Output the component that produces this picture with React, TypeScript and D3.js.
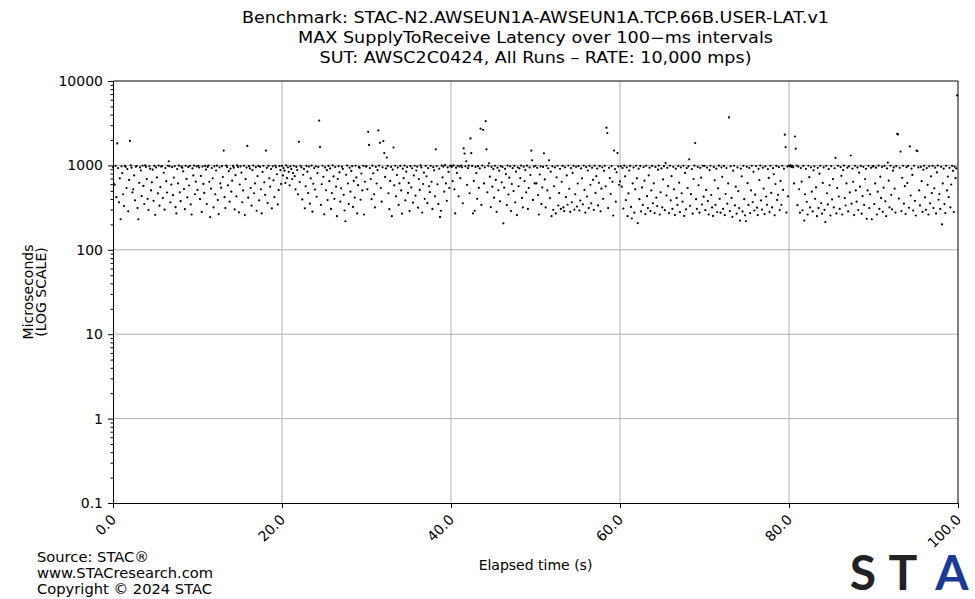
import { useRef, useEffect } from "react";
import * as d3 from "d3";

// MAX latency per 100-ms interval, microseconds (10 s per array)
const seg00 = [948, 610, 590, 985, 420, 1820, 930, 365, 700, 230, 975, 812, 455, 330, 990, 962, 540, 905, 286, 672, 1950, 998, 940, 478, 520, 760, 386, 965, 981, 312, 230, 622, 945, 870, 433, 990, 571, 349, 1003, 958, 688, 402, 296, 977, 915, 505, 630, 890, 380, 986, 260, 945, 720, 466, 995, 333, 552, 968, 980, 410, 818, 299, 932, 650, 476, 990, 1120, 975, 365, 593, 952, 444, 718, 983, 320, 270, 905, 612, 996, 480, 377, 965, 940, 850, 525, 303, 990, 692, 418, 955, 578, 987, 345, 262, 922, 760, 996, 455, 641, 970];
const seg10 = [512, 990, 944, 398, 750, 281, 968, 603, 472, 985, 890, 348, 958, 995, 640, 244, 530, 931, 702, 318, 976, 455, 870, 992, 388, 265, 948, 612, 545, 980, 728, 1500, 420, 312, 994, 960, 580, 855, 372, 915, 488, 660, 986, 940, 301, 765, 430, 998, 956, 278, 594, 972, 820, 366, 505, 990, 258, 688, 943, 1700, 415, 978, 920, 540, 333, 880, 996, 468, 612, 952, 290, 745, 985, 385, 962, 520, 270, 838, 990, 630, 448, 1500, 935, 358, 988, 702, 560, 905, 310, 975, 666, 420, 994, 950, 785, 345, 512, 982, 880, 603];
const seg20 = [985, 760, 930, 865, 620, 998, 705, 950, 840, 580, 972, 905, 690, 812, 990, 745, 520, 960, 880, 455, 1900, 635, 990, 948, 395, 775, 912, 310, 566, 985, 842, 470, 968, 352, 700, 995, 283, 606, 930, 518, 975, 425, 812, 960, 3400, 1650, 340, 598, 990, 732, 263, 945, 508, 878, 388, 986, 651, 920, 305, 470, 998, 740, 402, 957, 560, 250, 690, 982, 826, 372, 535, 965, 912, 448, 292, 218, 775, 995, 610, 350, 940, 488, 860, 978, 322, 655, 416, 990, 720, 270, 583, 958, 935, 392, 802, 505, 988, 262, 640, 972];
const seg30 = [975, 520, 2500, 1750, 930, 690, 398, 992, 805, 455, 318, 962, 610, 880, 2600, 995, 1850, 540, 372, 948, 1940, 1400, 730, 920, 1240, 985, 468, 303, 655, 958, 250, 890, 1630, 580, 990, 430, 770, 942, 340, 612, 985, 505, 268, 915, 705, 996, 385, 842, 955, 472, 620, 288, 978, 548, 925, 362, 760, 990, 438, 870, 965, 316, 690, 512, 998, 945, 276, 602, 820, 402, 985, 742, 358, 930, 566, 482, 990, 640, 305, 952, 875, 430, 1550, 982, 596, 350, 915, 245, 290, 992, 720, 968, 488, 1005, 612, 380, 945, 836, 540, 985];
const seg40 = [985, 962, 650, 998, 520, 270, 940, 812, 990, 430, 968, 705, 995, 950, 356, 1590, 1380, 975, 1120, 588, 930, 992, 468, 2090, 1400, 985, 270, 655, 290, 960, 810, 402, 978, 542, 920, 2720, 340, 995, 2640, 612, 948, 3350, 1550, 480, 988, 1060, 735, 320, 960, 560, 905, 415, 990, 672, 282, 940, 508, 866, 375, 982, 630, 955, 206, 545, 912, 790, 338, 996, 452, 715, 975, 288, 602, 930, 496, 988, 365, 842, 258, 950, 566, 920, 708, 994, 412, 318, 965, 652, 880, 478, 992, 305, 540, 945, 770, 1500, 1150, 390, 968, 612];
const seg50 = [990, 612, 935, 445, 262, 780, 972, 350, 548, 958, 1390, 682, 318, 990, 505, 925, 1150, 410, 842, 250, 975, 298, 566, 945, 270, 722, 990, 335, 470, 912, 305, 640, 985, 318, 288, 950, 420, 760, 342, 995, 528, 282, 930, 366, 815, 988, 300, 455, 962, 326, 610, 978, 292, 384, 920, 703, 345, 992, 512, 276, 955, 428, 870, 312, 985, 590, 355, 940, 675, 298, 992, 472, 745, 918, 336, 622, 980, 286, 530, 948, 402, 862, 990, 565, 2800, 2420, 312, 935, 708, 458, 982, 640, 255, 1500, 905, 372, 830, 1400, 975, 590];
const seg60 = [645, 975, 560, 930, 308, 992, 742, 388, 950, 250, 466, 870, 985, 322, 235, 612, 945, 275, 520, 990, 702, 207, 915, 398, 986, 285, 548, 340, 955, 660, 265, 990, 432, 312, 762, 940, 288, 505, 985, 356, 612, 272, 958, 415, 330, 890, 996, 262, 480, 920, 318, 682, 980, 295, 1065, 440, 935, 568, 272, 990, 386, 745, 305, 962, 520, 258, 915, 412, 340, 985, 625, 280, 948, 468, 372, 990, 252, 815, 302, 930, 540, 975, 1180, 332, 456, 905, 268, 690, 992, 1840, 398, 305, 958, 582, 275, 935, 716, 344, 990, 426];
const seg70 = [985, 295, 512, 942, 378, 262, 880, 990, 446, 318, 252, 960, 665, 340, 915, 280, 535, 992, 402, 275, 948, 732, 305, 985, 258, 458, 930, 352, 612, 3700, 288, 975, 412, 246, 865, 990, 336, 560, 268, 945, 495, 312, 222, 918, 742, 285, 988, 398, 256, 218, 962, 615, 340, 935, 272, 505, 990, 368, 840, 292, 450, 982, 316, 258, 912, 670, 995, 385, 300, 940, 532, 265, 975, 428, 342, 905, 710, 280, 990, 472, 318, 928, 785, 256, 602, 985, 390, 448, 952, 296, 655, 342, 990, 512, 915, 2310, 1650, 276, 968, 430];
const seg80 = [992, 975, 1003, 960, 985, 948, 612, 2200, 1580, 995, 338, 968, 522, 275, 930, 642, 294, 985, 222, 455, 912, 370, 262, 990, 725, 318, 950, 488, 285, 875, 975, 402, 548, 250, 935, 312, 798, 988, 356, 268, 620, 945, 298, 213, 990, 468, 345, 905, 582, 255, 982, 395, 688, 318, 925, 1230, 270, 540, 990, 428, 305, 955, 752, 262, 880, 995, 410, 335, 612, 940, 285, 975, 478, 1310, 352, 918, 640, 258, 990, 505, 372, 945, 296, 820, 560, 985, 268, 432, 962, 340, 690, 912, 233, 505, 988, 312, 455, 935, 230, 975];
const seg90 = [975, 348, 612, 940, 262, 488, 992, 305, 735, 412, 958, 282, 545, 985, 375, 250, 920, 1080, 660, 318, 990, 448, 302, 865, 945, 530, 276, 980, 2370, 2330, 405, 935, 1460, 288, 712, 990, 352, 568, 265, 952, 620, 985, 315, 1680, 440, 918, 772, 292, 990, 380, 255, 1500, 1480, 945, 505, 336, 962, 650, 282, 888, 990, 418, 298, 930, 588, 262, 975, 355, 742, 470, 985, 312, 535, 940, 270, 826, 995, 392, 458, 305, 962, 200, 612, 915, 348, 272, 990, 505, 738, 420, 935, 318, 592, 988, 862, 280, 965, 705, 920, 6750];

const xTicks = [0, 20, 40, 60, 80, 100];
const yTicks = [0.1, 1, 10, 100, 1000, 10000];
const yTickLabels = ["0.1", "1", "10", "100", "1000", "10000"];

const titleLines = [
  "Benchmark: STAC-N2.AWSEUN1A-AWSEUN1A.TCP.66B.USER-LAT.v1",
  "MAX SupplyToReceive Latency over 100\u2212ms intervals",
  "SUT: AWSC2C0424, All Runs \u2013 RATE: 10,000 mps)",
];
const titleWidths = [587, 475, 432];
const footerLines = ["Source: STAC\u00ae", "www.STACresearch.com", "Copyright \u00a9 2024 STAC"];

export default function App() {
  const svgRef = useRef<SVGSVGElement>(null);

  useEffect(() => {
    const width = 975;
    const height = 599;
    const MARGIN = { top: 81, right: 17, bottom: 96, left: 113 };
    const x0 = MARGIN.left;
    const x1 = width - MARGIN.right;
    const y0 = MARGIN.top;
    const y1 = height - MARGIN.bottom;
    const font = "DejaVu Sans, sans-serif";

    const svg = d3.select(svgRef.current);
    svg.selectAll("*").remove();

    const values = [...seg00, ...seg10, ...seg20, ...seg30, ...seg40, ...seg50, ...seg60, ...seg70, ...seg80, ...seg90];
    const data = values.map((v, i) => ({ t: i * 0.1, v }));

    const xScale = d3.scaleLinear().domain([0, 100]).range([x0, x1]);
    const yScale = d3.scaleLog().domain([0.1, 10000]).range([y1, y0]);

    // grid
    const grid = svg.append("g").attr("stroke", "#b0b0b0").attr("stroke-width", 1);
    grid.selectAll(".gx").data(xTicks.slice(1, -1)).join("line")
      .attr("x1", d => xScale(d)).attr("x2", d => xScale(d))
      .attr("y1", y0).attr("y2", y1);
    grid.selectAll(".gy").data(yTicks.slice(1, -1)).join("line")
      .attr("x1", x0).attr("x2", x1)
      .attr("y1", d => yScale(d)).attr("y2", d => yScale(d));

    // points
    svg.append("g").selectAll("circle").data(data).join("circle")
      .attr("cx", d => xScale(d.t))
      .attr("cy", d => yScale(d.v))
      .attr("r", 1.1)
      .attr("fill", "#000");

    // minor ticks on the log axis
    const minor: number[] = [];
    for (let e = -1; e < 4; e++) for (let m = 2; m < 10; m++) minor.push(m * Math.pow(10, e));
    svg.append("g").attr("transform", `translate(${x0},0)`)
      .call(d3.axisLeft(yScale).tickValues(minor).tickSize(2.5).tickFormat(() => ""))
      .call(g => g.select(".domain").remove());

    const yAxis = svg.append("g").attr("transform", `translate(${x0},0)`)
      .call(d3.axisLeft(yScale).tickValues(yTicks).tickSize(5).tickPadding(5)
        .tickFormat((d, i) => yTickLabels[i]));
    yAxis.selectAll("text").attr("font-size", 14).attr("font-family", font).attr("fill", "#000");

    const xAxis = svg.append("g").attr("transform", `translate(0,${y1})`)
      .call(d3.axisBottom(xScale).tickValues(xTicks).tickSize(5).tickFormat(d => (d as number).toFixed(1)));
    xAxis.selectAll("text")
      .attr("font-size", 14).attr("font-family", font).attr("fill", "#000")
      .attr("text-anchor", "end")
      .attr("y", 0).attr("dy", "0.35em")
      .attr("transform", "translate(0,14) rotate(-45)");

    svg.selectAll(".domain").attr("stroke", "#000");
    svg.selectAll(".tick line").attr("stroke", "#000");

    // frame top / right
    svg.append("path")
      .attr("d", `M${x0},${y0}H${x1}V${y1}`)
      .attr("fill", "none").attr("stroke", "#000").attr("stroke-width", 1);

    // titles
    svg.append("g").selectAll("text").data(titleLines).join("text")
      .attr("x", (x0 + x1) / 2)
      .attr("y", (d, i) => 22.5 + i * 20)
      .attr("text-anchor", "middle")
      .attr("font-family", font).attr("font-size", 15)
      .attr("textLength", (d, i) => titleWidths[i])
      .attr("lengthAdjust", "spacingAndGlyphs")
      .text(d => d);

    svg.append("text")
      .attr("x", (x0 + x1) / 2).attr("y", 570)
      .attr("text-anchor", "middle")
      .attr("font-family", font).attr("font-size", 14)
      .text("Elapsed time (s)");

    svg.append("g").selectAll("text").data(["Microseconds", "(LOG SCALE)"]).join("text")
      .attr("transform", (d, i) => `translate(${32.5 + i * 13},${(y0 + y1) / 2}) rotate(-90)`)
      .attr("text-anchor", "middle")
      .attr("font-family", font).attr("font-size", 14)
      .text(d => d);

    svg.append("g").selectAll("text").data(footerLines).join("text")
      .attr("x", 37).attr("y", (d, i) => 562 + i * 16)
      .attr("font-family", font).attr("font-size", 14.7)
      .text(d => d);

    // logo
    const logo = [
      { ch: "S", cx: 863, color: "#222222" },
      { ch: "T", cx: 903, color: "#222222" },
      { ch: "A", cx: 952, color: "#1b3a94" },
    ];
    svg.append("g").selectAll("text").data(logo).join("text")
      .attr("x", d => d.cx).attr("y", 590)
      .attr("text-anchor", "middle")
      .attr("font-family", "Lato, sans-serif").attr("font-weight", 700).attr("font-size", 48)
      .attr("fill", d => d.color)
      .text(d => d.ch);
  }, []);

  return (
    <svg ref={svgRef} width={975} height={599}
      style={{ position: "absolute", left: 0, top: 0, background: "#fff" }} />
  );
}
